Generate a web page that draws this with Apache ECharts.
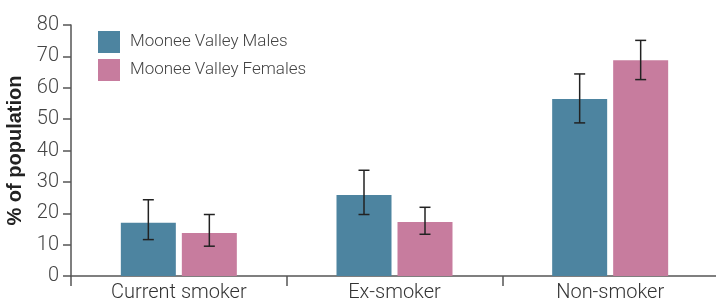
<!DOCTYPE html>
<html><head><meta charset="utf-8">
<script src="https://cdn.jsdelivr.net/npm/echarts@6/dist/echarts.min.js"></script>
<style>html,body{margin:0;padding:0;background:#fff}#c{width:716px;height:302px}</style>
</head><body><div id="c"></div>
<script>
var categories = ['Current smoker', 'Ex-smoker', 'Non-smoker'];
var seriesNames = ['Moonee Valley Males', 'Moonee Valley Females'];
var males = [17.0, 25.8, 56.4];
var malesLow = [11.6, 19.6, 48.8];
var malesHigh = [24.3, 33.7, 64.4];
var females = [13.7, 17.2, 68.8];
var femalesLow = [9.5, 13.3, 62.6];
var femalesHigh = [19.6, 21.9, 75.1];
var yTicks = [0, 10, 20, 30, 40, 50, 60, 70, 80];

var BAR_W = 55, GAP = 6, OFF = (BAR_W + GAP) / 2;
function errData(low, high) { return categories.map(function (c, i) { return [i, low[i], high[i]]; }); }
function errSeries(low, high, off) {
  return {
    type: 'custom', silent: true, z: 5,
    data: errData(low, high),
    renderItem: function (params, api) {
      var lo = api.coord([api.value(0), api.value(1)]);
      var hi = api.coord([api.value(0), api.value(2)]);
      var x = lo[0] + off, cw = 5.5;
      var st = { stroke: '#222', lineWidth: 1.5 };
      return { type: 'group', children: [
        { type: 'line', shape: { x1: x, y1: lo[1], x2: x, y2: hi[1] }, style: st },
        { type: 'line', shape: { x1: x - cw, y1: lo[1], x2: x + cw, y2: lo[1] }, style: st },
        { type: 'line', shape: { x1: x - cw, y1: hi[1], x2: x + cw, y2: hi[1] }, style: st }
      ]};
    }
  };
}
var chart = echarts.init(document.getElementById('c'), null, { renderer: 'canvas' });
chart.setOption({
  animation: false,
  textStyle: { fontFamily: 'Roboto' },
  grid: { left: 71, right: -2, top: 25, bottom: 26, containLabel: false, outerBoundsMode: 'none' },
  legend: {
    orient: 'vertical', left: 98, top: 31, padding: 0, itemWidth: 22, itemHeight: 22, itemGap: 6,
    icon: 'rect', data: seriesNames,
    textStyle: { fontSize: 17, color: '#444', fontWeight: 300, padding: [0, 0, 0, 5], fontFamily: 'Roboto' }
  },
  xAxis: {
    type: 'category', data: categories,
    axisLine: { lineStyle: { color: '#555', width: 1.5 } },
    axisTick: { show: true, length: 10, lineStyle: { color: '#555', width: 1.5 } },
    axisLabel: { fontSize: 20, color: '#333', fontWeight: 300, margin: 7, fontFamily: 'Roboto' }
  },
  yAxis: {
    type: 'value', min: yTicks[0], max: yTicks[yTicks.length - 1], interval: 10,
    name: '% of population', nameLocation: 'middle', nameGap: 45,
    nameTextStyle: { fontSize: 20, fontWeight: 'bold', color: '#222', fontFamily: 'Liberation Sans' },
    axisLine: { show: true, lineStyle: { color: '#555', width: 1.5 } },
    axisTick: { show: true, length: 8, lineStyle: { color: '#555', width: 1.5 } },
    splitLine: { show: false },
    axisLabel: { fontSize: 20, color: '#444', fontWeight: 300, margin: 12, fontFamily: 'Roboto' }
  },
  series: [
    { name: seriesNames[0], type: 'bar', data: males, barWidth: BAR_W, barGap: (GAP / BAR_W * 100) + '%',
      itemStyle: { color: '#4d84a0' } },
    { name: seriesNames[1], type: 'bar', data: females, barWidth: BAR_W,
      itemStyle: { color: '#c77c9e' } },
    errSeries(malesLow, malesHigh, -OFF),
    errSeries(femalesLow, femalesHigh, OFF)
  ]
});
</script></body></html>
